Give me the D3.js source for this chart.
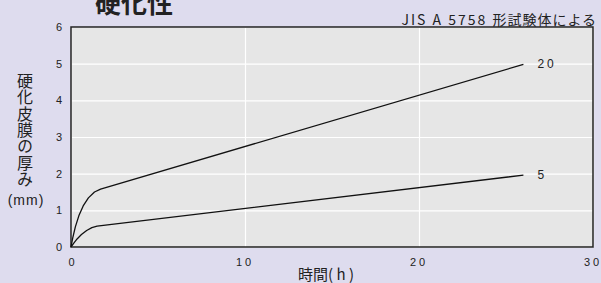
<!DOCTYPE html>
<html>
<head>
<meta charset="utf-8">
<script src="https://cdn.jsdelivr.net/npm/d3@7"></script>
<style>
  body { margin: 0; background: #dedcee; }
  svg { display: block; font-family: "Liberation Sans", Arial, sans-serif; }
  .jp { font-family: "Noto Sans CJK JP", sans-serif; }
</style>
</head>
<body>
<svg id="chart" width="601" height="283"></svg>
<script>
// data
const xTicks = [0, 10, 20, 30];
const yTicks = [0, 1, 2, 3, 4, 5, 6];
const seriesNames = ['20', '5'];
const hours20 = [0, 0.1, 0.25, 0.45, 0.7, 1.0, 1.35, 1.7, 26];
const depth20 = [0, 0.25, 0.55, 0.85, 1.12, 1.34, 1.5, 1.58, 4.98];
const hours5 = [0, 0.15, 0.35, 0.6, 0.9, 1.2, 1.5, 26];
const depth5 = [0, 0.1, 0.22, 0.34, 0.45, 0.53, 0.57, 1.96];

const svg = d3.select("#chart"),
    margin = {top: 27, right: 8, bottom: 36, left: 71},
    width = +svg.attr("width") - margin.left - margin.right,
    height = +svg.attr("height") - margin.top - margin.bottom;

const x = d3.scaleLinear().domain([0, 30]).range([0, width]);
const y = d3.scaleLinear().domain([0, 6]).range([height, 0]);

const g = svg.append("g")
    .attr("transform", "translate(" + margin.left + "," + margin.top + ")");

g.append("rect")
    .attr("width", width)
    .attr("height", height)
    .attr("fill", "#e6e6e6");

// white grid
g.append("g")
    .call(d3.axisLeft(y).tickValues(yTicks).tickSize(-width).tickFormat(""))
    .call(a => a.select(".domain").remove())
    .selectAll("line").attr("stroke", "#fff").attr("stroke-width", 1.2);

g.append("g")
    .attr("transform", "translate(0," + height + ")")
    .call(d3.axisBottom(x).tickValues(xTicks).tickSize(height).tickFormat(""))
    .call(a => a.select(".domain").remove())
    .selectAll("line").attr("transform", "translate(0," + (-height) + ")")
    .attr("stroke", "#fff").attr("stroke-width", 1.2);

// frame
g.append("rect")
    .attr("width", width)
    .attr("height", height)
    .attr("fill", "none")
    .attr("stroke", "#222")
    .attr("stroke-width", 1.5);

// tick labels
g.selectAll(".ylab")
    .data(yTicks)
    .enter().append("text")
    .attr("x", -9)
    .attr("y", d => y(d) + 4)
    .attr("text-anchor", "end")
    .attr("font-size", "11px")
    .attr("fill", "#222")
    .text(d => d);

g.selectAll(".xlab")
    .data(xTicks)
    .enter().append("text")
    .attr("x", d => x(d) + (d === 0 ? 2 : 0))
    .attr("y", height + 19)
    .attr("text-anchor", "middle")
    .attr("font-size", "11px")
    .attr("letter-spacing", "3px")
    .attr("fill", "#222")
    .text(d => d);

// curves
const line = d3.line()
    .x(d => x(d[0]))
    .y(d => y(d[1]));

const series = [
    {name: seriesNames[0], pts: d3.zip(hours20, depth20)},
    {name: seriesNames[1], pts: d3.zip(hours5, depth5)}
];

g.selectAll(".curve")
    .data(series)
    .enter().append("path")
    .attr("d", d => line(d.pts))
    .attr("fill", "none")
    .attr("stroke", "#111")
    .attr("stroke-width", 1.3)
    .attr("stroke-linejoin", "round");

g.selectAll(".slab")
    .data(series)
    .enter().append("text")
    .attr("x", d => x(d.pts[d.pts.length - 1][0]) + 14)
    .attr("y", d => y(d.pts[d.pts.length - 1][1]) + 4)
    .attr("font-size", "12px")
    .attr("letter-spacing", "3px")
    .attr("fill", "#222")
    .text(d => d.name);

// titles
svg.append("text")
    .attr("class", "jp")
    .attr("x", 95)
    .attr("y", 13)
    .attr("font-size", "26px")
    .attr("font-weight", "bold")
    .attr("fill", "#222")
    .text("硬化性");

const note = svg.append("text")
    .attr("class", "jp")
    .attr("x", 597)
    .attr("y", 25)
    .attr("text-anchor", "end")
    .attr("font-size", "14px")
    .attr("fill", "#222");
note.append("tspan").attr("letter-spacing", "2px").text("JIS A 5758 ");
note.append("tspan").attr("letter-spacing", "1px").text("形試験体による");

svg.append("text")
    .attr("class", "jp")
    .attr("x", 25)
    .attr("y", 73)
    .attr("font-size", "16px")
    .attr("letter-spacing", "0.3px")
    .attr("fill", "#222")
    .style("writing-mode", "vertical-rl")
    .style("text-orientation", "upright")
    .text("硬化皮膜の厚み");

svg.append("text")
    .attr("x", 26)
    .attr("y", 205)
    .attr("text-anchor", "middle")
    .attr("font-size", "14px")
    .attr("letter-spacing", "1px")
    .attr("fill", "#222")
    .text("(mm)");

svg.append("text")
    .attr("class", "jp")
    .attr("x", 298)
    .attr("y", 280)
    .attr("font-size", "15px")
    .attr("fill", "#222")
    .text("時間( h )");
</script>
</body>
</html>
